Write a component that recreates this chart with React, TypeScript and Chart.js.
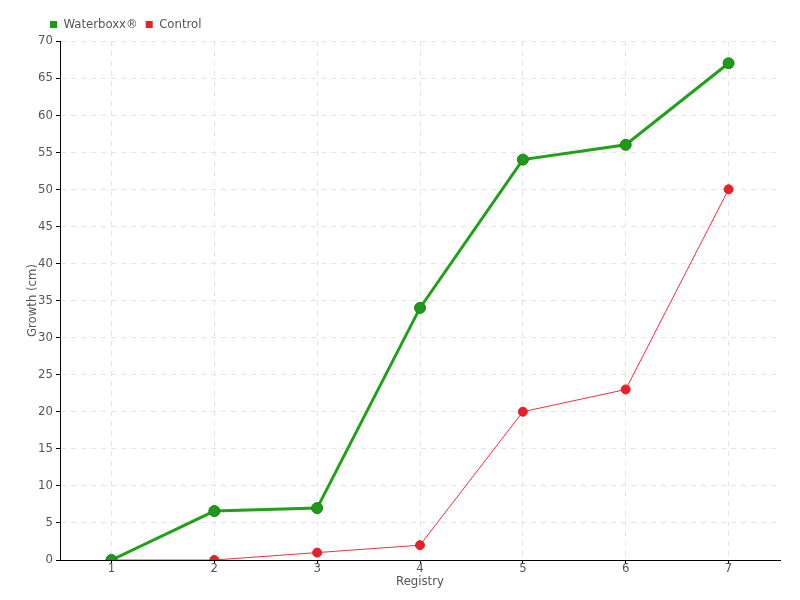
import React, { useEffect, useRef } from "react";
import { Chart, registerables } from "chart.js";

Chart.register(...registerables);

const categories = ["1", "2", "3", "4", "5", "6", "7"];
const waterboxx = [0, 6.6, 7, 34, 54, 56, 67];
const control = [0, 0, 1, 2, 20, 23, 50];

const FAMILY = "'DejaVu Sans', sans-serif";
const TEXT = "#555";
const font = { family: FAMILY, size: 13, weight: "condensed" as any };

const legendShift = {
  id: "legendShift",
  afterLayout(chart: any) {
    if (chart.legend) {
      chart.legend.left += 17;
      chart.legend.right += 17;
    }
  },
};

export default function App() {
  const ref = useRef<HTMLCanvasElement | null>(null);
  useEffect(() => {
    if (!ref.current) return;
    const chart = new Chart(ref.current, {
      type: "line",
      data: {
        labels: categories,
        datasets: [
          {
            label: "Waterboxx®",
            data: waterboxx,
            borderColor: "#22a01a",
            backgroundColor: "#1f9a18",
            pointBorderColor: "#1d7f17",
            pointBackgroundColor: "#1f9a18",
            borderWidth: 3,
            pointRadius: 5.5,
            pointBorderWidth: 1,
            tension: 0,
          },
          {
            label: "Control",
            data: control,
            borderColor: "#f0303c",
            backgroundColor: "#e8202a",
            pointBorderColor: "#e0202a",
            pointBackgroundColor: "#e8202a",
            borderWidth: 1,
            pointRadius: 4.5,
            pointBorderWidth: 1,
            tension: 0,
          },
        ],
      },
      plugins: [legendShift],
      options: {
        responsive: false,
        animation: false,
        layout: { padding: { left: 25, right: 20, top: 10, bottom: 11 } },
        plugins: {
          tooltip: { enabled: false },
          legend: {
            align: "start",
            labels: {
              boxWidth: 7,
              boxHeight: 7,
              padding: 8,
              color: TEXT,
              font,
              generateLabels: (c: any) =>
                Chart.defaults.plugins.legend.labels.generateLabels(c).map((l: any) => ({
                  ...l,
                  lineWidth: 0,
                  strokeStyle: "transparent",
                })),
            },
          },
        },
        scales: {
          x: {
            offset: true,
            border: { color: "#000", width: 1, dash: [5, 5] },
            grid: {
              offset: false,
              color: "#e4e4e4",
              tickColor: "#000",
              tickLength: 4,
              tickBorderDash: [],
            },
            ticks: { color: TEXT, font, padding: -3 },
            title: {
              display: true,
              text: "Registry",
              color: TEXT,
              font,
              padding: 0,
            },
            afterFit: (s: any) => {
              s.height = 29;
            },
          },
          y: {
            min: 0,
            max: 70,
            border: { color: "#000", width: 1, dash: [5, 5] },
            grid: {
              color: "#e4e4e4",
              tickColor: "#000",
              tickLength: 4,
              tickBorderDash: [],
            },
            ticks: { stepSize: 5, color: TEXT, font, padding: 3 },
            title: {
              display: true,
              text: "Growth (cm)",
              color: TEXT,
              font,
              padding: 0,
            },
            afterFit: (s: any) => {
              s.width = 35;
            },
          },
        },
      },
    });
    return () => chart.destroy();
  }, []);
  return (
    <div style={{ position: "absolute", left: 0, top: 0, width: 800, height: 600, background: "#fff" }}>
      <canvas ref={ref} width={800} height={600} />
    </div>
  );
}
